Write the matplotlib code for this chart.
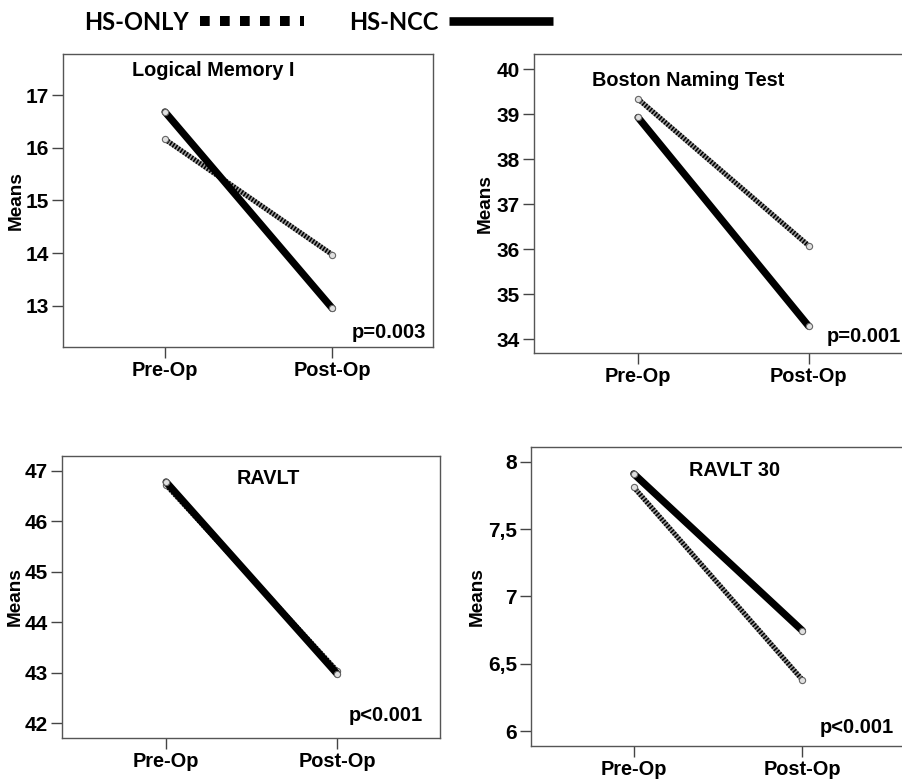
import matplotlib
matplotlib.use('Agg')
import matplotlib.pyplot as plt
from matplotlib.lines import Line2D
import matplotlib.ticker as ticker

plt.rcParams['font.family'] = ['Liberation Sans', 'DejaVu Sans']
plt.rcParams['font.weight'] = 'bold'

# ---- data ----
tests = ['Logical Memory I', 'Boston Naming Test', 'RAVLT', 'RAVLT 30']
timepoints = ['Pre-Op', 'Post-Op']
hs_only_pre = [16.16, 39.34, 46.72, 7.81]
hs_only_post = [13.97, 36.08, 43.03, 6.38]
hs_ncc_pre = [16.68, 38.93, 46.78, 7.91]
hs_ncc_post = [12.95, 34.29, 42.97, 6.745]
p_labels = ['p=0.003', 'p=0.001', 'p<0.001', 'p<0.001']
yticks = [[13, 14, 15, 16, 17],
          [34, 35, 36, 37, 38, 39, 40],
          [42, 43, 44, 45, 46, 47],
          [6, 6.5, 7, 7.5, 8]]
ylims = [(12.22, 17.78), (33.69, 40.34), (41.71, 47.30), (5.889, 8.107)]

# layout of each panel (figure fractions) and text placement (axes fractions)
positions = [[0.0698, 0.557, 0.410, 0.374],
             [0.592, 0.549, 0.418, 0.382],
             [0.0684, 0.0579, 0.4194, 0.360],
             [0.5887, 0.0473, 0.413, 0.3814]]
title_xy = [(0.405, 0.945), (0.41, 0.91), (0.545, 0.92), (0.547, 0.924)]
p_xy = [(0.981, 0.05, 'right'), (0.776, 0.054, 'left'),
        (0.954, 0.077, 'right'), (0.973, 0.063, 'right')]
label_x = [-0.127, -0.13, -0.123, -0.145]

fig = plt.figure(figsize=(9.02, 7.83), dpi=100)

for i in range(4):
    ax = fig.add_axes(positions[i])
    x = [0, 1]
    # HS-ONLY: hatched look = grey base with fine black dashes
    ax.plot(x, [hs_only_pre[i], hs_only_post[i]], color='#9a9a9a', lw=3.6,
            solid_capstyle='round', zorder=2)
    ax.plot(x, [hs_only_pre[i], hs_only_post[i]], color='black', lw=3.6,
            ls=(0, (0.32, 0.32)), dash_capstyle='butt', zorder=3)
    ax.plot(x, [hs_only_pre[i], hs_only_post[i]], ls='none', marker='o', ms=4.5,
            mfc='#e0e0e0', mec='#666666', mew=0.8, zorder=4)
    # HS-NCC: thick solid
    ax.plot(x, [hs_ncc_pre[i], hs_ncc_post[i]], color='black', lw=5.2,
            solid_capstyle='round', zorder=5)
    ax.plot(x, [hs_ncc_pre[i], hs_ncc_post[i]], ls='none', marker='o', ms=4.5,
            mfc='#e0e0e0', mec='#666666', mew=0.8, zorder=6)

    ax.set_xlim(-0.61, 1.6)
    ax.set_ylim(*ylims[i])
    ax.set_xticks(x)
    ax.set_xticklabels(timepoints, fontsize=14.4, fontweight='bold')
    ax.set_yticks(yticks[i])
    if i == 3:
        ax.yaxis.set_major_formatter(ticker.FuncFormatter(
            lambda v, pos: ('%g' % v).replace('.', ',')))
    for lab in ax.get_yticklabels():
        lab.set_fontsize(15)
        lab.set_fontweight('bold')
    ax.tick_params(axis='both', direction='out', length=8, width=1,
                   color='#444444', pad=2)
    for sp in ax.spines.values():
        sp.set_color('#555555')
        sp.set_linewidth(1)
    ax.set_ylabel('Means', fontsize=13.7, fontweight='bold', va='center')
    ax.yaxis.set_label_coords(label_x[i], 0.5)

    ax.text(title_xy[i][0], title_xy[i][1], tests[i], transform=ax.transAxes,
            ha='center', va='center', fontsize=14.3, fontweight='bold')
    ax.text(p_xy[i][0], p_xy[i][1], p_labels[i], transform=ax.transAxes,
            ha=p_xy[i][2], va='center', fontsize=14.5, fontweight='bold')

# legend at the top (text first, line after)
handles = [Line2D([], [], color='black', lw=7.2, ls=(0, (0.97, 1.03)),
                  dash_capstyle='butt'),
           Line2D([], [], color='black', lw=6.2, solid_capstyle='butt')]
fig.legend(handles, ['HS-ONLY', 'HS-NCC'], ncol=2, markerfirst=False,
           frameon=False, loc='upper left', bbox_to_anchor=(0.082, 1.0),
           borderpad=0, borderaxespad=0.45, handlelength=4.4, handletextpad=0.45,
           columnspacing=1.9, prop={'family': 'Lato', 'weight': 'bold', 'size': 17})

fig.savefig('out.png', dpi=100, facecolor='white')
